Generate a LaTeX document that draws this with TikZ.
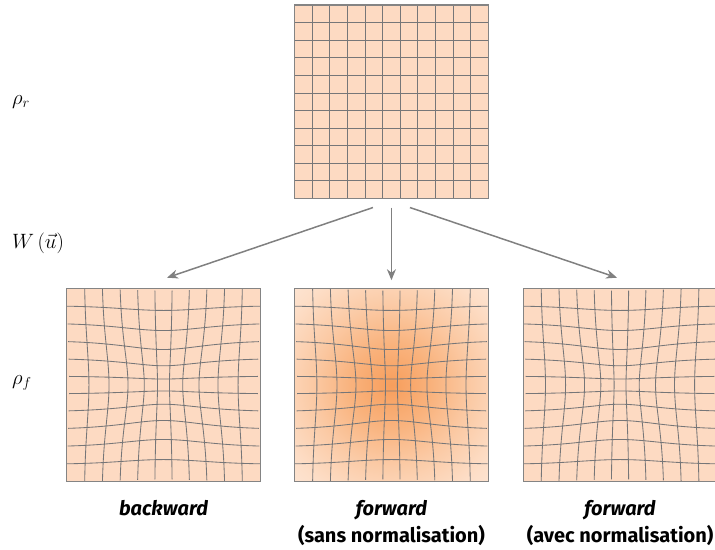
\documentclass[tikz,border=0pt]{standalone}
\usepackage{fontspec}
\setsansfont{Fira Sans}
\usetikzlibrary{arrows.meta,calc}
\definecolor{peach}{RGB}{253,218,194}
\definecolor{gridc}{RGB}{118,118,120}
\definecolor{boxc}{RGB}{132,132,132}
\definecolor{arrc}{RGB}{128,128,128}
\definecolor{fc0}{RGB}{247,158,92}
\definecolor{fc1}{RGB}{249,178,124}
\definecolor{fc2}{RGB}{251,202,165}
\definecolor{fc3}{RGB}{253,222,199}
\definecolor{fc4}{RGB}{254,235,222}
\definecolor{fc5}{RGB}{255,243,235}
\definecolor{fc6}{RGB}{255,248,243}
\pgfdeclareradialshading{fwdshade}{\pgfpoint{0bp}{0bp}}{%
  color(0bp)=(fc0); color(7.3bp)=(fc1); color(14.6bp)=(fc2); color(21.9bp)=(fc3);
  color(29.2bp)=(fc4); color(36.5bp)=(fc5); color(50bp)=(fc6)}
\tikzset{
  panel/.style={minimum width=193.5pt, minimum height=193.5pt, inner sep=0pt, draw=boxc, line width=1.1pt},
  gridline/.style={draw=gridc, line width=0.85pt},
  flow/.style={draw=arrc, line width=1.5pt, -{Stealth[length=11pt,width=9pt]}},
  mathlab/.style={anchor=west, inner sep=0pt, font=\fontsize{20.5}{24}\selectfont},
  caption/.style={anchor=north, align=center, inner sep=0pt, font=\sffamily\bfseries\fontsize{20}{27}\selectfont}
}
\newcommand{\warpgrid}[1]{%
  \begin{scope}[shift={#1}, x=96.75pt, y=96.75pt]
    \foreach \i in {1,...,10}{%
      \pgfmathsetmacro\uu{-1+\i*2/11}
      \draw[gridline] plot[domain=-1:1, samples=41, variable=\t]
        ({\uu*(1-0.33*exp(-(\uu*\uu+\t*\t)/0.385))},{\t*(1-0.33*exp(-(\uu*\uu+\t*\t)/0.385))});
      \draw[gridline] plot[domain=-1:1, samples=41, variable=\t]
        ({\t*(1-0.33*exp(-(\uu*\uu+\t*\t)/0.385))},{\uu*(1-0.33*exp(-(\uu*\uu+\t*\t)/0.385))});
    }
  \end{scope}}
\begin{document}
\begin{tikzpicture}[x=1pt,y=1pt]
\useasboundingbox (0,0) rectangle (715,549);
% top panel (reference)
\fill[peach] (294.7,350.5) rectangle (488.2,544);
\begin{scope}[shift={(391.45pt,447.25pt)}, x=96.75pt, y=96.75pt]
  \foreach \i in {1,...,10}{%
    \pgfmathsetmacro\uu{-1+\i*2/11}
    \draw[gridline] (\uu,-1) -- (\uu,1);
    \draw[gridline] (-1,\uu) -- (1,\uu);
  }
\end{scope}
\node[panel] (top) at (391.45,447.25) {};
% bottom left (backward)
\fill[peach] (66.75,67.25) rectangle (260.25,260.75);
\warpgrid{(163.5pt,164pt)}
\node[panel] (bl) at (163.5,164) {};
% bottom middle (forward, no normalisation)
\begin{scope}
  \clip (294.7,67.25) rectangle (488.2,260.75);
  \shade[shading=fwdshade] (391.45,164) circle (137);
\end{scope}
\warpgrid{(391.45pt,164pt)}
\node[panel] (bm) at (391.45,164) {};
% bottom right (forward, normalised)
\fill[peach] (523.3,67.25) rectangle (716.8,260.75);
\warpgrid{(620.05pt,164pt)}
\node[panel] (br) at (620.05,164) {};
% arrows
\draw[flow] ([xshift=-18.5pt,yshift=-8.5pt]top.south) -- ([xshift=3.5pt,yshift=10pt]bl.north);
\draw[flow] ([yshift=-8.5pt]top.south) -- ([yshift=7.5pt]bm.north);
\draw[flow] ([xshift=18.5pt,yshift=-8.5pt]top.south) -- ([xshift=-3pt,yshift=10pt]br.north);
% math labels
\node[mathlab] (lr) at (12,447) {$\rho_r$};
\node[mathlab] (lw) at (12,306) {$W\left(\vec{u}\right)$};
\node[mathlab] (lf) at (12,166) {$\rho_f$};
% captions
\node[caption] (cbl) at (163.5,49) {\itshape backward};
\node[caption] (cbm) at (391.45,49) {\itshape forward\\(sans normalisation)};
\node[caption] (cbr) at (620.05,49) {\itshape forward\\(avec normalisation)};
\end{tikzpicture}
\end{document}
